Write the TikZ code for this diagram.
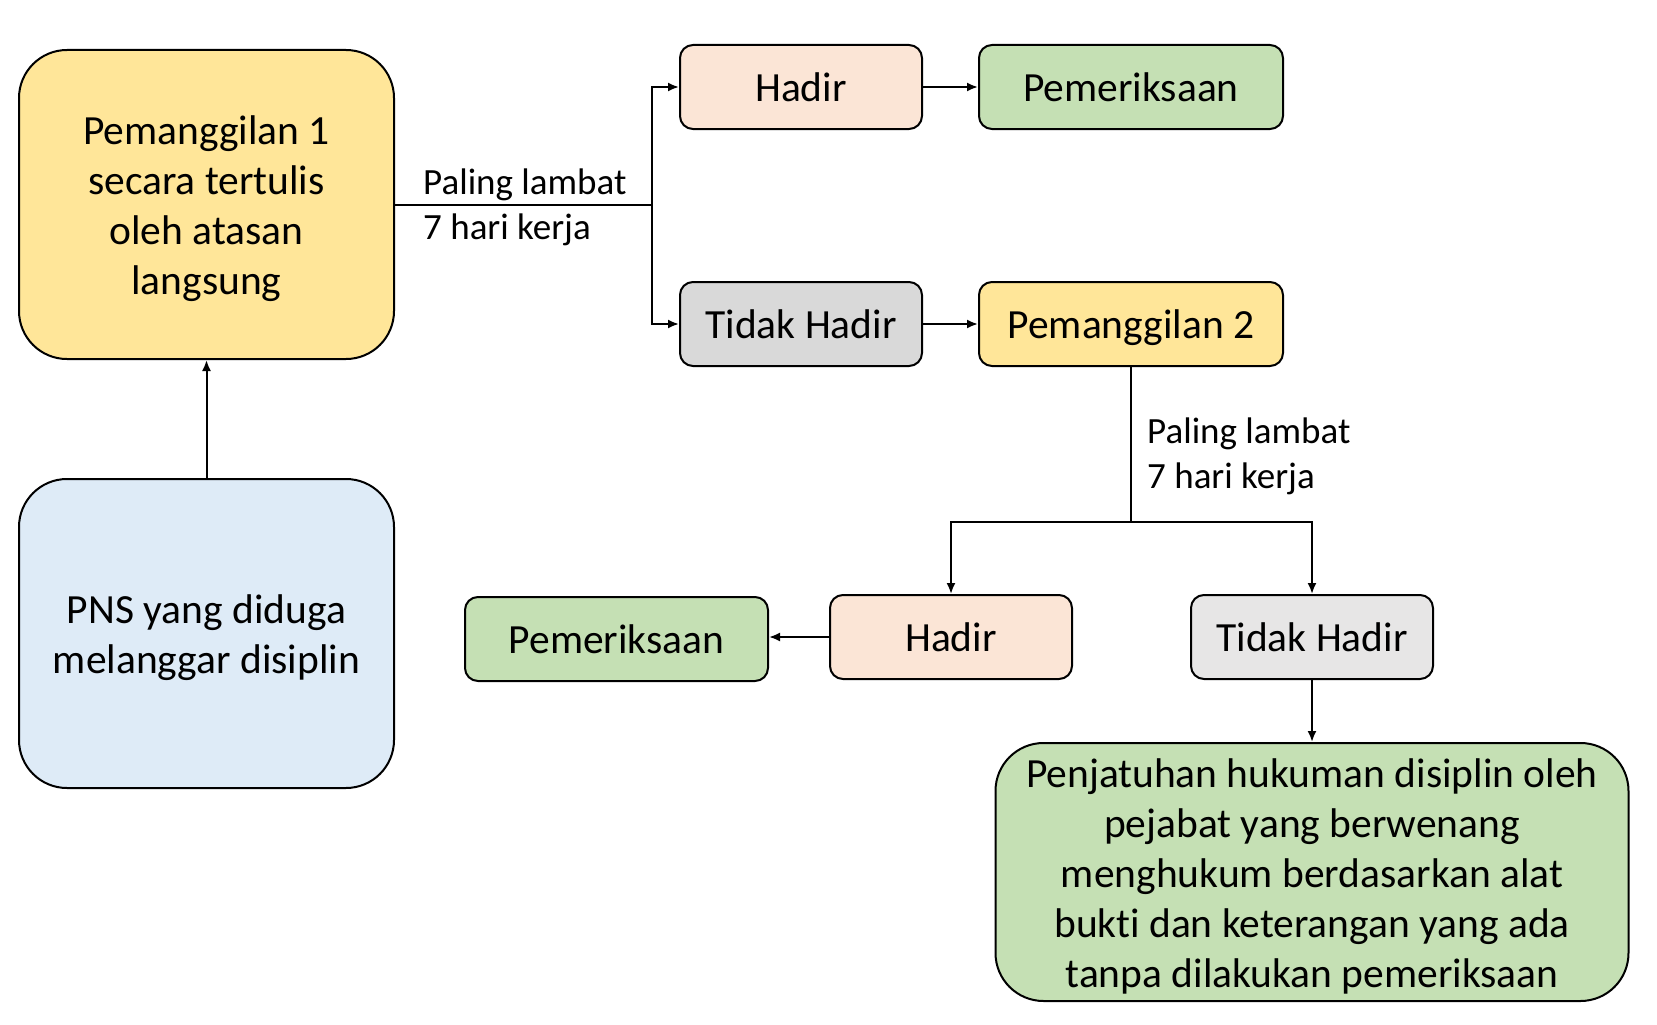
\documentclass[tikz,border=0pt]{standalone}
\usepackage{fontspec}
\setmainfont[Ligatures=NoCommon]{Carlito}
\usetikzlibrary{arrows.meta}
\definecolor{cyellow}{HTML}{FFE699}
\definecolor{cblue}{HTML}{DEEBF7}
\definecolor{cpeach}{HTML}{FBE5D6}
\definecolor{cgreen}{HTML}{C5E0B4}
\definecolor{cgray}{HTML}{D9D9D9}
\definecolor{cgrayl}{HTML}{E7E6E6}
\newcommand{\topstrut}{\rule{0pt}{37pt}}
\tikzset{
  base/.style={draw=black, line width=2pt, inner sep=0pt, align=center,
    font=\fontsize{41.5}{50}\selectfont},
  bigbox/.style={base, rounded corners=48pt, minimum width=375pt, minimum height=309pt},
  smallbox/.style={base, rounded corners=13pt, minimum height=84pt},
  lbl/.style={inner sep=0pt, align=left, anchor=west, font=\fontsize{37}{45}\selectfont},
  conn/.style={line width=2pt},
  arr/.style={line width=2pt, -{Latex[length=11pt,width=9pt]}}
}
\begin{document}
\begin{tikzpicture}[x=1pt,y=-1pt]
\useasboundingbox (0,0) rectangle (1657,1025);
\fill[white] (0,0) rectangle (1657,1025);
\node[bigbox, fill=cyellow] (b1) at (206.5,204.5) {\topstrut Pemanggilan 1\\secara tertulis\\oleh atasan\\langsung};
\node[bigbox, fill=cblue] (pns) at (206.5,633.5) {\topstrut PNS yang diduga\\melanggar disiplin};
\node[smallbox, fill=cpeach, minimum width=242pt] (h1) at (801,87) {Hadir};
\node[smallbox, fill=cgreen, minimum width=304pt] (p1) at (1131,87) {Pemeriksaan};
\node[smallbox, fill=cgray, minimum width=242pt] (t1) at (801,324) {Tidak Hadir};
\node[smallbox, fill=cyellow, minimum width=304pt] (p2) at (1131,324) {\topstrut Pemanggilan 2};
\node[smallbox, fill=cpeach, minimum width=242pt] (h2) at (951,637) {Hadir};
\node[smallbox, fill=cgrayl, minimum width=242pt] (t2) at (1312,637) {Tidak Hadir};
\node[smallbox, fill=cgreen, minimum width=303pt] (p3) at (616.5,639) {Pemeriksaan};
\node[base, fill=cgreen, rounded corners=48pt, minimum width=633pt, minimum height=258pt] (pen) at (1312,872)
  {\topstrut Penjatuhan hukuman disiplin oleh\\pejabat yang berwenang\\menghukum berdasarkan alat\\bukti dan keterangan yang ada\\tanpa dilakukan pemeriksaan};
\node[lbl] (l1) at (423,207.5) {Paling lambat\\7 hari kerja};
\node[lbl] (l2) at (1147,456) {Paling lambat\\7 hari kerja};
\coordinate (j1) at (652,204.5);
\coordinate (j2) at (1131,522);
\draw[arr] (pns.north) -- (b1.south);
\draw[conn] (b1.east) -- (j1);
\draw[arr] (j1) |- (h1.west);
\draw[arr] (j1) |- (t1.west);
\draw[arr] (h1.east) -- (p1.west);
\draw[arr] (t1.east) -- (p2.west);
\draw[conn] (p2.south) -- (j2);
\draw[arr] (j2) -| (h2.north);
\draw[arr] (j2) -| (t2.north);
\draw[arr] (h2.west) -- (p3.east |- h2.west);
\draw[arr] (t2.south) -- (pen.north);
\end{tikzpicture}
\end{document}
